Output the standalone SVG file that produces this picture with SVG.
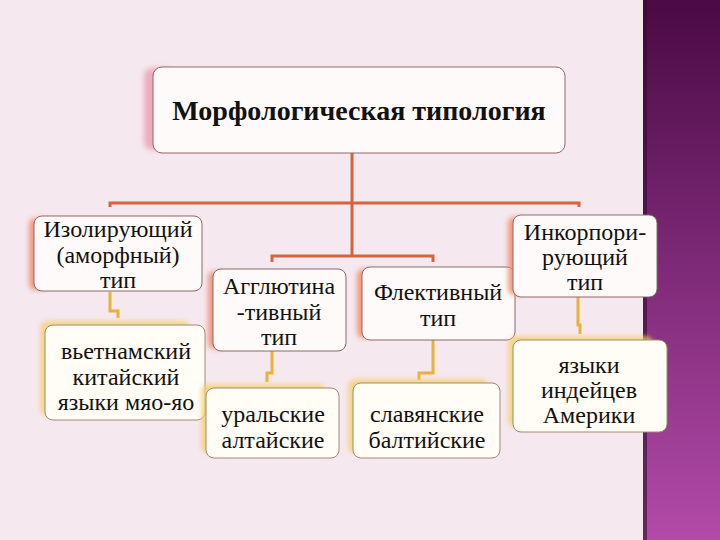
<svg xmlns="http://www.w3.org/2000/svg" width="720" height="540" viewBox="0 0 720 540">
<defs>
<linearGradient id="purple" x1="0" y1="0" x2="0" y2="1">
<stop offset="0" stop-color="#4a0a44"/>
<stop offset="0.5" stop-color="#7e2a78"/>
<stop offset="1" stop-color="#b24ba8"/>
</linearGradient>
<filter id="glowR" x="-30%" y="-20%" width="160%" height="140%"><feGaussianBlur stdDeviation="2.5"/></filter>
<filter id="glowY" x="-20%" y="-20%" width="140%" height="140%"><feGaussianBlur stdDeviation="2"/></filter>
<style>
.box{fill:#fefaf9;stroke:#8b6a6a;stroke-width:1}
.lbox{fill:#fffdf6;stroke:#a08a70;stroke-width:1}
.shR{fill:#ef8566;opacity:0.8}
.shY{fill:#f5cf6a;opacity:0.75}
.shP{fill:#eea2b6;opacity:0.85}
.t{font-family:"Liberation Serif","Times New Roman",serif;font-size:24px;fill:#111;text-anchor:middle}
.title{font-family:"Liberation Serif","Times New Roman",serif;font-size:28px;font-weight:bold;fill:#111;text-anchor:middle}
.c1{fill:none;stroke:#d4643e;stroke-width:3}
.c2{fill:none;stroke:#e8b23a;stroke-width:3}
</style>
</defs>
<rect x="0" y="0" width="720" height="540" fill="#f5e8ee"/>
<rect x="643" y="0" width="77" height="540" fill="url(#purple)"/>
<rect x="643" y="0" width="4" height="540" fill="#3a0835" opacity="0.6"/>

<g id="connectors">
<path class="c1" d="M352,153 V256"/>
<path class="c1" d="M110,207 V203 H579 V207"/>
<path class="c1" d="M272,262 V256 H433 V262"/>
<path class="c2" d="M110,292 V311 H118 V318"/>
<path class="c2" d="M272,351 V373 H267 V382"/>
<path class="c2" d="M433,340 V373 H419 V380"/>
<path class="c2" d="M578,297 V325 H580 V334"/>
</g>

<g id="root">
<rect class="shP" x="144" y="68" width="28" height="82" rx="8" filter="url(#glowR)"/>
<rect class="box" x="153" y="67" width="412" height="86" rx="9"/>
<text class="title" x="359" y="120">Морфологическая типология</text>
</g>

<g id="isol">
<rect class="shR" x="29" y="218" width="18" height="72" rx="6" filter="url(#glowR)"/>
<rect class="box" x="34" y="216" width="168" height="75" rx="8"/>
<text class="t" x="118" y="237">Изолирующий</text>
<text class="t" x="118" y="263">(аморфный)</text>
<text class="t" x="118" y="288">тип</text>
</g>

<g id="aggl">
<rect class="shR" x="208" y="271" width="18" height="78" rx="6" filter="url(#glowR)"/>
<rect class="box" x="213" y="269" width="133" height="82" rx="8"/>
<text class="t" x="279" y="294">Агглютина</text>
<text class="t" x="279" y="320">-тивный</text>
<text class="t" x="279" y="345">тип</text>
</g>

<g id="flek">
<rect class="shR" x="357" y="269" width="18" height="69" rx="6" filter="url(#glowR)"/>
<rect class="box" x="362" y="267" width="153" height="73" rx="8"/>
<text class="t" x="438" y="300">Флективный</text>
<text class="t" x="438" y="326">тип</text>
</g>

<g id="inkorp">
<rect class="shR" x="508" y="217" width="18" height="78" rx="6" filter="url(#glowR)"/>
<rect class="box" x="513" y="215" width="144" height="82" rx="8"/>
<text class="t" x="585" y="240">Инкорпори-</text>
<text class="t" x="585" y="265">рующий</text>
<text class="t" x="585" y="290">тип</text>
</g>

<g id="viet">
<rect class="shY" x="40" y="321" width="150" height="95" rx="8" filter="url(#glowY)"/>
<rect class="lbox" x="45" y="325" width="160" height="95" rx="8"/>
<text class="t" x="126" y="359">вьетнамский</text>
<text class="t" x="126" y="385">китайский</text>
<text class="t" x="126" y="410">языки мяо-яо</text>
</g>

<g id="ural">
<rect class="shY" x="201" y="384" width="125" height="70" rx="8" filter="url(#glowY)"/>
<rect class="lbox" x="206" y="388" width="133" height="70" rx="8"/>
<text class="t" x="273" y="422">уральские</text>
<text class="t" x="273" y="448">алтайские</text>
</g>

<g id="slav">
<rect class="shY" x="348" y="379" width="140" height="75" rx="8" filter="url(#glowY)"/>
<rect class="lbox" x="353" y="383" width="147" height="75" rx="8"/>
<text class="t" x="427" y="422">славянские</text>
<text class="t" x="427" y="448">балтийские</text>
</g>

<g id="indian">
<rect class="shY" x="508" y="336" width="145" height="92" rx="8" filter="url(#glowY)"/>
<rect class="lbox" x="513" y="340" width="154" height="92" rx="8"/>
<text class="t" x="589" y="373">языки</text>
<text class="t" x="589" y="398">индейцев</text>
<text class="t" x="589" y="423">Америки</text>
</g>
</svg>
